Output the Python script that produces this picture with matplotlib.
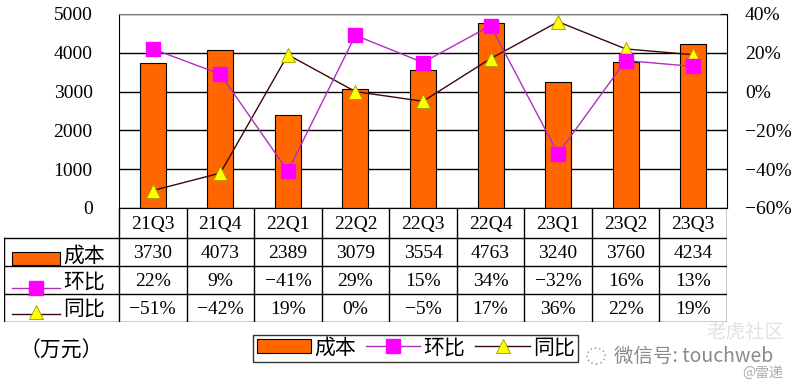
import matplotlib
matplotlib.use("Agg")
import matplotlib.pyplot as plt
from matplotlib.patches import Rectangle, Ellipse

plt.rcParams['font.family'] = ['Liberation Serif', 'Noto Sans CJK SC', 'DejaVu Sans']

categories = ['21Q3', '21Q4', '22Q1', '22Q2', '22Q3', '22Q4', '23Q1', '23Q2', '23Q3']
cost = [3730, 4073, 2389, 3079, 3554, 4763, 3240, 3760, 4234]
qoq = [22, 9, -41, 29, 15, 34, -32, 16, 13]
yoy = [-51, -42, 19, 0, -5, 17, 36, 22, 19]
left_ticks = [0, 1000, 2000, 3000, 4000, 5000]
right_ticks = [-60, -40, -20, 0, 20, 40]
series_names = ['成本', '环比', '同比']

BAR_C = '#FF6600'
SQ_C = '#FF00FF'
QOQ_LINE = '#B030C0'
YOY_LINE = '#3A0A0A'
TRI_C = '#FFFF00'
TRI_E = '#9A9A00'

W, H = 796, 388
fig = plt.figure(figsize=(W / 100, H / 100), dpi=100)


def rect(l, t, r, b):
    return [l / W, 1 - b / H, (r - l) / W, (b - t) / H]


PL, PR, PT, PB = 119, 727, 14, 208
ax = fig.add_axes(rect(PL, PT, PR, PB))
x = list(range(len(categories)))
bars = ax.bar(x, cost, width=0.385, color=BAR_C, edgecolor='black', linewidth=0.8, zorder=2)
ax.set_xlim(-0.5, len(categories) - 0.5)
ax.set_ylim(0, 5000)
ax.set_yticks(left_ticks)
ax.set_yticklabels([str(v) for v in left_ticks], fontsize=14)
ax.tick_params(axis='y', length=0, pad=19)
ax.set_xticks([])
ax.grid(axis='y', color='black', linewidth=1, zorder=0)
ax.set_axisbelow(True)
ax.spines['top'].set_color('#808080')
ax.spines['right'].set_visible(False)
ax.spines['left'].set_color('black')
ax.spines['bottom'].set_color('black')

ax2 = ax.twinx()
ax2.set_ylim(-0.6, 0.4)
ax2.set_yticks([v / 100 for v in right_ticks])
ax2.set_yticklabels([f"{v}%".replace('-', '\u2212') for v in right_ticks], fontsize=14)
ax2.tick_params(axis='y', direction='in', length=5, pad=13, color='black')
for s in ['top', 'left', 'bottom']:
    ax2.spines[s].set_visible(False)
ax2.spines['right'].set_color('black')

l_yoy, = ax2.plot(x, [v / 100 for v in yoy], color=YOY_LINE, linewidth=1,
                  marker='^', markersize=10, markerfacecolor=TRI_C,
                  markeredgecolor=TRI_E, markeredgewidth=0.6, zorder=3)
l_qoq, = ax2.plot(x, [v / 100 for v in qoq], color=QOQ_LINE, linewidth=1,
                  marker='s', markersize=10, markerfacecolor=SQ_C,
                  markeredgecolor=SQ_C, zorder=4)

# ---- data table ----
TL, TR, TT, TB = 4, 727, 208, 322
tab = fig.add_axes(rect(TL, TT, TR, TB))
tab.set_xlim(TL, TR)
tab.set_ylim(TB, TT)
tab.axis('off')
colw = (PR - PL) / len(categories)
rows = [208, 238, 266, 294, 322]
lc = dict(color='black', linewidth=1)
for yv in rows[1:]:
    tab.plot([TL, TR], [yv, yv], **lc)
tab.plot([TL, TL], [rows[1], rows[-1]], **lc)
for i in range(len(categories) + 1):
    xv = PL + i * colw
    tab.plot([xv, xv], [rows[0], rows[-1]], **lc)

fs = 14
for i, cat in enumerate(categories):
    cx = PL + (i + 0.5) * colw
    tab.text(cx, (rows[0] + rows[1]) / 2 + 1, cat, ha='center', va='center', fontsize=fs)
    tab.text(cx, (rows[1] + rows[2]) / 2 + 1, str(cost[i]), ha='center', va='center', fontsize=fs)
    tab.text(cx, (rows[2] + rows[3]) / 2 + 1, f"{qoq[i]}%".replace('-', '\u2212'),
             ha='center', va='center', fontsize=fs)
    tab.text(cx, (rows[3] + rows[4]) / 2 + 1, f"{yoy[i]}%".replace('-', '\u2212'),
             ha='center', va='center', fontsize=fs)

# legend keys inside the table
tab.add_patch(Rectangle((12, 252), 48, 13, facecolor=BAR_C, edgecolor='black', linewidth=0.8))
tab.plot([12, 60], [288, 288], color=QOQ_LINE, linewidth=1)
tab.plot([36], [288], marker='s', markersize=10, color=SQ_C)
tab.plot([12, 60], [314, 314], color=YOY_LINE, linewidth=1)
tab.plot([36], [312], marker='^', markersize=10, markerfacecolor=TRI_C,
         markeredgecolor=TRI_E, markeredgewidth=0.6)
for nm, yv in zip(series_names, [257, 283, 310]):
    tab.text(63, yv, nm, ha='left', va='center', fontsize=15)

# ---- bottom legend ----
leg = fig.legend([bars, l_qoq, l_yoy], series_names, loc='center',
                 bbox_to_anchor=(415.5 / W, 1 - 348.5 / H), ncol=3,
                 fontsize=15, frameon=True, fancybox=False, edgecolor='black',
                 handlelength=2.6, handletextpad=0.15, columnspacing=0.5,
                 borderpad=0.15, borderaxespad=0)
leg.get_frame().set_linewidth(1)

fig.text(20 / W, 1 - 352 / H, '（万元）', fontsize=15, ha='left', va='center')

# watermark
fig.add_artist(Ellipse((596 / W, 1 - 356 / H), 18 / W, 16 / H, transform=fig.transFigure,
                       fill=False, linestyle=':', edgecolor='#aaaaaa', linewidth=1.2))
fig.text(614 / W, 1 - 356 / H, '微信号: touchweb', fontsize=14, color='#8a8a8a',
         ha='left', va='center', family=['Noto Sans CJK SC'])
fig.text(706 / W, 1 - 333 / H, '老虎社区', fontsize=14, color='#e2e2e2',
         ha='left', va='center', family=['Noto Sans CJK SC'], style='italic', zorder=0)
fig.text(742 / W, 1 - 373 / H, '@雷递', fontsize=10, color='#aaaaaa',
         ha='left', va='center', family=['Noto Sans CJK SC'])

fig.savefig('out.png', dpi=100)
